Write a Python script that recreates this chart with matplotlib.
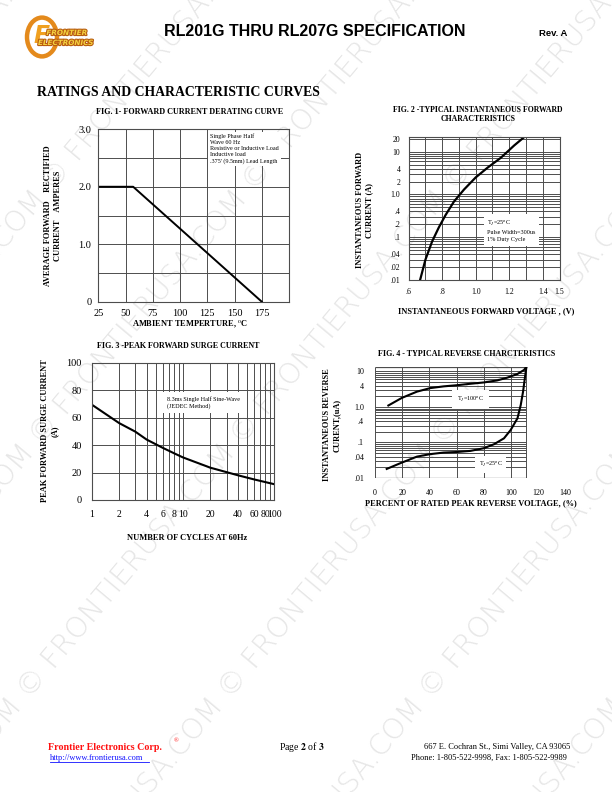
import numpy as np
import matplotlib
matplotlib.use("Agg")
import matplotlib.pyplot as plt
from matplotlib.patches import Circle
import matplotlib.patheffects as pe

plt.rcParams['font.family'] = ['Liberation Serif', 'DejaVu Serif']
plt.rcParams['mathtext.fontset'] = 'stix'

# ---- data ----
# Fig. 1 forward current derating
fig1_temp = [25, 57, 175]
fig1_amps = [2.0, 2.0, 0.0]
fig1_xticks = [25, 50, 75, 100, 125, 150, 175]
fig1_yticks = [0, 1, 2, 3]
fig1_ylabels = ['0', '1.0', '2.0', '3.0']

# Fig. 2 forward characteristics
fig2_volts = [0.668, 0.70, 0.74, 0.78, 0.82, 0.87, 0.93, 1.0, 1.07, 1.15, 1.23, 1.29]
fig2_amps = [0.01, 0.03, 0.08, 0.17, 0.33, 0.68, 1.3, 2.5, 4.2, 7.2, 14, 22]
fig2_xticks = [0.6, 0.8, 1.0, 1.2, 1.4, 1.5]
fig2_xlabels = ['.6', '.8', '1.0', '1.2', '1.4', '1.5']
fig2_yticks = [20, 10, 4, 2, 1, 0.4, 0.2, 0.1, 0.04, 0.02, 0.01]
fig2_ylabels = ['20', '10', '4', '2', '1.0', '.4', '.2', '.1', '.04', '.02', '.01']

# Fig. 3 peak forward surge current
fig3_cycles = [1, 2, 3, 4, 6, 8, 10, 20, 40, 60, 100]
fig3_amps = [69.5, 56, 49.8, 44, 38, 34, 31, 23.5, 18, 15, 11.5]
fig3_xticks = [1, 2, 4, 6, 8, 10, 20, 40, 60, 80, 100]
fig3_yticks = [0, 20, 40, 60, 80, 100]

# Fig. 4 reverse characteristics
fig4_pct_100 = [9.8, 19.7, 30.8, 40.6, 50.4, 60.3, 70.1, 79.9, 89.8, 97.2, 104.6, 109.4, 111.2]
fig4_ua_100 = [1.1, 1.8, 2.7, 3.4, 3.8, 4.1, 4.5, 4.9, 5.6, 6.7, 8.5, 11, 13.6]
fig4_pct_25 = [8.6, 18.5, 30.8, 40.6, 50.4, 60.3, 70.1, 79.9, 87.3, 94.7, 99.6, 104.6, 107, 108.7, 110, 111.2]
fig4_ua_25 = [0.018, 0.026, 0.040, 0.047, 0.052, 0.054, 0.058, 0.069, 0.089, 0.131, 0.225,
              0.48, 1.14, 2.7, 6.4, 13.6]
fig4_xticks = [0, 20, 40, 60, 80, 100, 120, 140]
fig4_yticks = [10, 4, 1, 0.4, 0.1, 0.04, 0.01]
fig4_ylabels = ['10', '4', '1.0', '.4', '.1', '.04', '.01']

W, H = 612, 792
fig = plt.figure(figsize=(W / 100, H / 100), dpi=100)
GRID = '#4d4d4d'


def add_ax(l, t, r, b):
    return fig.add_axes([l / W, 1 - b / H, (r - l) / W, (b - t) / H])


def put(x, y, s, **kw):
    kw.setdefault('ha', 'center')
    kw.setdefault('va', 'center')
    return fig.text(x / W, 1 - y / H, s, **kw)


def style(ax, size, pad):
    ax.patch.set_alpha(0)
    ax.tick_params(which='both', length=0, labelsize=size, pad=pad)
    for sp in ax.spines.values():
        sp.set_color(GRID)
        sp.set_linewidth(0.8)
    ax.grid(True, which='both', color=GRID, lw=0.7)
    ax.set_axisbelow(True)


def log_lines(lo, hi):
    out = []
    for n in range(-3, 3):
        for k in range(1, 10):
            v = k * 10.0 ** n
            if lo <= v <= hi:
                out.append(v)
    return out


# ---- watermark, on a page-sized background axes so it is clipped at the edges ----
bg = fig.add_axes([0, 0, 1, 1], zorder=-10)
bg.set_xlim(0, W)
bg.set_ylim(H, 0)
bg.axis('off')
wm = 'FRONTIERUSA.COM © ' * 6
for k in range(-4, 5):
    bg.text(7.8 + 201 * k - 190 * 2, 723.6 + 227 * 2, wm, rotation=50, rotation_mode='anchor',
            ha='left', va='baseline', fontsize=21, color='#e6e6e6', clip_on=True,
            family='DejaVu Sans', fontweight='light')

# ---- header ----
logo = Circle((42 / W, 1 - 37 / H), 15 / W, transform=fig.transFigure, fill=False,
              ec='#e48a1c', lw=3.2, zorder=2)
fig.patches.append(logo)
put(42, 36, 'F', fontsize=17, fontweight='bold', style='italic', color='#f0a020',
    family='DejaVu Sans', zorder=3)
for txt, x, y in [('FRONTIER', 67, 33), ('ELECTRONICS', 66, 43)]:
    put(x, y, txt, fontsize=5.2, fontweight='bold', style='italic', color='#f4d040',
        family='DejaVu Sans', zorder=4,
        path_effects=[pe.withStroke(linewidth=1.6, foreground='#b85c10')])
put(315, 31, 'RL201G THRU RL207G SPECIFICATION', fontsize=11.5, fontweight='bold',
    family=['Liberation Sans', 'DejaVu Sans'])
put(553, 33, 'Rev. A', fontsize=6.8, fontweight='bold',
    family=['Liberation Sans', 'DejaVu Sans'])

put(37, 92, 'RATINGS AND CHARACTERISTIC CURVES', ha='left', fontsize=9.9, fontweight='bold')

# ---- Fig. 1 ----
ax1 = add_ax(98.3, 129.3, 289, 301.7)
ax1.plot(fig1_temp, fig1_amps, color='black', lw=1.4)
ax1.set_xlim(25, 200)
ax1.set_ylim(0, 3)
ax1.set_xticks(fig1_xticks)
ax1.set_yticks(fig1_yticks, fig1_ylabels)
ax1.set_yticks([0.5, 1.5, 2.5], minor=True)
style(ax1, 7.5, 5)
ax1.text(0.585, 0.975, 'Single Phase Half\nWave 60 Hz\nResistive or Inductive Load\nInductive load\n'
         ".375' (9.5mm) Lead Length", transform=ax1.transAxes, ha='left', va='top',
         fontsize=4.4, linespacing=1.25,
         bbox=dict(fc='white', ec='none', pad=1.5))
put(190, 112, 'FIG. 1- FORWARD CURRENT DERATING CURVE', fontsize=5.9, fontweight='bold')
put(190, 324, 'AMBIENT TEMPERTURE, $^{\\rm o}$C', fontsize=6, fontweight='bold')
put(53, 216, 'AVERAGE FORWARD    RECTIFIED\nCURRENT    AMPERES', rotation=90,
    fontsize=6, fontweight='bold', linespacing=1.2)

# ---- Fig. 2 ----
ax2 = add_ax(408.7, 137, 559.5, 280)
ax2.plot(fig2_volts, fig2_amps, color='black', lw=1.6)
ax2.set_yscale('log')
ax2.set_xlim(0.6, 1.5)
ax2.set_ylim(0.01, 22)
ax2.set_xticks(fig2_xticks, fig2_xlabels)
ax2.set_xticks([0.7, 0.9, 1.1, 1.3], minor=True)
ax2.set_yticks(fig2_yticks, fig2_ylabels)
ax2.set_yticks(log_lines(0.01, 22), minor=True)
ax2.yaxis.set_minor_formatter(plt.NullFormatter())
style(ax2, 5.6, 6)
ax2.text(0.52, 0.345, 'T$_J$=25$^{\\rm o}$C\nPulse Width=300us\n1% Duty Cycle',
         transform=ax2.transAxes, ha='left', va='center', fontsize=4.4, linespacing=1.5,
         bbox=dict(fc='white', ec='none', pad=2.5))
put(478, 114.5, 'FIG. 2 -TYPICAL INSTANTANEOUS FORWARD\nCHARACTERISTICS', fontsize=5.6,
    fontweight='bold', linespacing=1.15)
put(486, 311, 'INSTANTANEOUS FORWARD VOLTAGE , (V)', fontsize=6, fontweight='bold')
put(365, 210, 'INSTANTANEOUS FORWARD\nCURRENT (A)', rotation=90, fontsize=6,
    fontweight='bold', linespacing=1.2)

# ---- Fig. 3 ----
ax3 = add_ax(91.7, 362.7, 274.3, 500)
ax3.plot(fig3_cycles, fig3_amps, color='black', lw=1.5)
ax3.set_xscale('log')
ax3.set_xlim(1, 100)
ax3.set_ylim(0, 100)
ax3.set_xticks(fig3_xticks, [str(v) for v in fig3_xticks])
ax3.set_xticks(log_lines(1, 100), minor=True)
ax3.xaxis.set_minor_formatter(plt.NullFormatter())
ax3.set_yticks(fig3_yticks)
style(ax3, 7.5, 7)
ax3.tick_params(axis='x', labelsize=7)
ax3.text(0.41, 0.71, '8.3ms Single Half Sine-Wave\n(JEDEC Method)', transform=ax3.transAxes,
         ha='left', va='center', fontsize=4.4, linespacing=1.3,
         bbox=dict(fc='white', ec='none', pad=3))
put(178, 346.5, 'FIG. 3 -PEAK FORWARD SURGE CURRENT', fontsize=5.8, fontweight='bold')
put(187, 538, 'NUMBER OF CYCLES AT 60Hz', fontsize=6, fontweight='bold')
put(50, 431, 'PEAK FORWARD SURGE CURRENT\n(A)', rotation=90, fontsize=6,
    fontweight='bold', linespacing=1.2)

# ---- Fig. 4 ----
ax4 = add_ax(375, 366.7, 565.7, 478)
ax4.patch.set_alpha(0)
ax4.set_yscale('log')
ax4.set_xlim(0, 140)
ax4.set_ylim(0.01, 13.6)
for sp in ax4.spines.values():
    sp.set_visible(False)
x_end = 111.2
ax4.hlines(log_lines(0.01, 13.6), 0, x_end, color=GRID, lw=0.7)
ax4.vlines([0, 20, 40, 60, 80, 100, x_end], 0.01, 13.6, color=GRID, lw=0.7)
ax4.hlines([0.01, 13.6], 0, x_end, color=GRID, lw=0.9)
ax4.plot(fig4_pct_100, fig4_ua_100, color='black', lw=1.5)
ax4.plot(fig4_pct_25, fig4_ua_25, color='black', lw=1.5)
ax4.set_xticks(fig4_xticks)
ax4.set_yticks(fig4_yticks, fig4_ylabels)
ax4.set_yticks([], minor=True)
ax4.tick_params(which='both', length=0, labelsize=5.8, pad=8)
ax4.text(60, 1.6, 'T$_J$=100$^{\\rm o}$C', ha='left', va='center', fontsize=4.4,
         bbox=dict(fc='white', ec='none', pad=3.5))
ax4.text(76, 0.024, 'T$_J$=25$^{\\rm o}$C', ha='left', va='center', fontsize=4.4,
         bbox=dict(fc='white', ec='none', pad=2.5))
put(467, 354, 'FIG. 4 - TYPICAL REVERSE CHARCTERISTICS', fontsize=5.8, fontweight='bold')
put(471, 503.5, 'PERCENT OF RATED PEAK REVERSE VOLTAGE, (%)', fontsize=6, fontweight='bold')
put(332, 425, 'INSTANTANEOUS REVERSE\nCURENT,(uA)', rotation=90, fontsize=6,
    fontweight='bold', linespacing=1.2)

# ---- footer ----
put(48, 747, 'Frontier Electronics Corp.', ha='left', fontsize=7.2, fontweight='bold',
    color='#ff1010')
put(174, 741, '®', ha='left', fontsize=4.5, color='#ff1010')
put(50, 758, 'http://www.frontierusa.com', ha='left', fontsize=6, color='#1010ff')
fig.add_artist(plt.Line2D([50 / W, 149 / W], [1 - 762 / H, 1 - 762 / H], color='#1010ff', lw=0.6))
put(302, 747, 'Page $\\bf{2}$ of $\\bf{3}$', fontsize=7)
put(570, 747, '667 E. Cochran St., Simi Valley, CA 93065', ha='right', fontsize=6)
put(567, 758, 'Phone: 1-805-522-9998, Fax: 1-805-522-9989', ha='right', fontsize=6)

fig.savefig('out.png', dpi=100, facecolor='white')
